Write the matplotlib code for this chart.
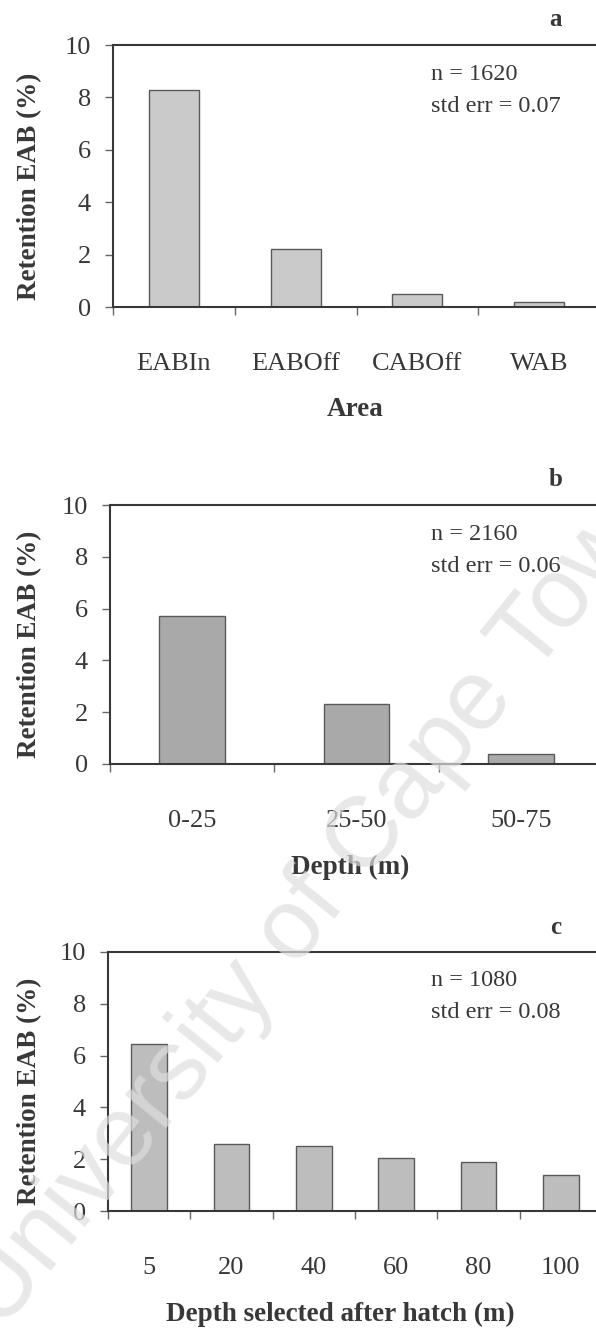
import numpy as np
import matplotlib
matplotlib.use("Agg")
import matplotlib.pyplot as plt

# Retention in the EAB (%) by release area, release depth and depth selected after hatch
area_labels = ["EABIn", "EABOff", "CABOff", "WAB"]
area_retention = [8.3, 2.2, 0.5, 0.2]

depth_labels = ["0-25", "25-50", "50-75"]
depth_retention = [5.7, 2.3, 0.4]

hatch_depth_labels = ["5", "20", "40", "60", "80", "100"]
hatch_depth_retention = [6.45, 2.6, 2.5, 2.05, 1.9, 1.4]

panel_letters = ["a", "b", "c"]
sample_sizes = [1620, 2160, 1080]
std_errors = [0.07, 0.06, 0.08]
y_ticks = [0, 2, 4, 6, 8, 10]

W, H = 596, 1330
plt.rcParams["font.family"] = ["Liberation Serif", "DejaVu Serif"]
INK = "#383838"
TICK = "#666666"

fig = plt.figure(figsize=(W / 100, H / 100), dpi=100)
fig.patch.set_facecolor("white")

panels = [
    dict(box=(113, 45, 600, 307), labels=area_labels, values=area_retention,
         width=0.41, color="#cacaca", xlabel="Area", xlabel_x=355),
    dict(box=(110, 505, 603, 764), labels=depth_labels, values=depth_retention,
         width=0.40, color="#a9a9a9", xlabel="Depth (m)", xlabel_x=350),
    dict(box=(108, 952, 602, 1211), labels=hatch_depth_labels, values=hatch_depth_retention,
         width=0.43, color="#bdbdbd", xlabel="Depth selected after hatch (m)", xlabel_x=340),
]

for p, letter, n_obs, se in zip(panels, panel_letters, sample_sizes, std_errors):
    l, t, r, b = p["box"]
    ax = fig.add_axes([l / W, 1 - b / H, (r - l) / W, (b - t) / H])
    n = len(p["labels"])
    x = np.arange(n)
    ax.bar(x, p["values"], width=p["width"], color=p["color"],
           edgecolor="#5a5a5a", linewidth=1.0, zorder=2)
    ax.set_xlim(-0.5, n - 0.5)
    ax.set_ylim(0, 10)
    ax.set_yticks(y_ticks)
    ax.set_yticklabels([str(v) for v in y_ticks])
    ax.set_xticks(x)
    ax.set_xticklabels(p["labels"])
    ax.set_xticks(np.arange(n + 1) - 0.5, minor=True)
    ax.tick_params(axis="x", which="major", length=0, pad=33, labelsize=19,
                   labelcolor=INK)
    ax.tick_params(axis="x", which="minor", length=6, width=1, color=TICK,
                   direction="out")
    ax.tick_params(axis="y", length=6, width=1, color=TICK, direction="out",
                   pad=10, labelsize=19, labelcolor=INK)
    for side in ("left", "top", "bottom"):
        ax.spines[side].set_color(INK)
        ax.spines[side].set_linewidth(1.5)
    ax.spines["right"].set_visible(False)

    hpx = b - t
    wpx = r - l
    # axis titles
    ax.set_ylabel("Retention EAB (%)", fontsize=19.5, fontweight="bold", color=INK)
    ax.yaxis.label.set_verticalalignment("center")
    ax.yaxis.set_label_coords((30 - l) / wpx, 0.5 - 10 / hpx)
    ax.set_xlabel(p["xlabel"], fontsize=19.5, fontweight="bold", color=INK)
    ax.xaxis.label.set_verticalalignment("center")
    ax.xaxis.set_label_coords((p["xlabel_x"] - l) / wpx, -103 / hpx)

    # panel letter and statistics
    fig.text(556 / W, 1 - (t - 25) / H, letter, fontsize=18, fontweight="bold",
             color=INK, ha="center", va="center")
    fig.text(431 / W, 1 - (t + 29) / H, f"n = {n_obs}", fontsize=17.5,
             color=INK, ha="left", va="center")
    fig.text(431 / W, 1 - (t + 61) / H, f"std err = {se:.2f}", fontsize=17.5,
             color=INK, ha="left", va="center")

# repository watermark
fig.text(2 / W, 1 - 1332 / H, "University of Cape Town", rotation=51,
         rotation_mode="anchor", ha="left", va="baseline", fontsize=72,
         family=["Liberation Sans", "DejaVu Sans"], color=(0.87, 0.87, 0.87),
         alpha=0.7, zorder=10)

fig.savefig("out.png", dpi=100, facecolor="white")
